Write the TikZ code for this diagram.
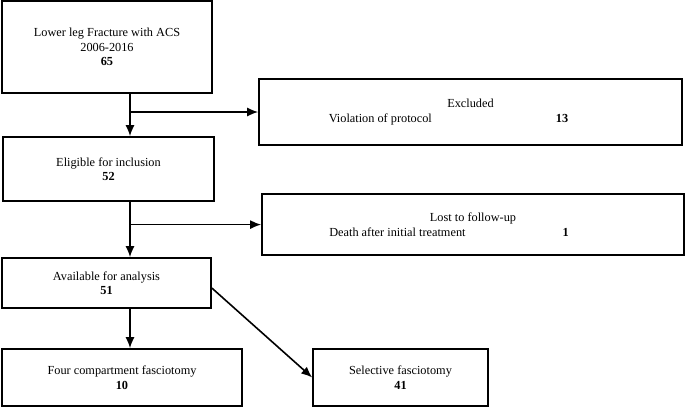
\documentclass[tikz,border=0pt]{standalone}
\usepackage{fontspec}
\setmainfont{Liberation Serif}
\usepackage{tikz}
\usetikzlibrary{arrows.meta}

\begin{document}
\begin{tikzpicture}[
  x=1pt, y=-1pt,
  bnode/.style={draw,rectangle,line width=1.6pt,align=center,inner sep=0pt,
    font=\fontsize{12.3}{14.5}\selectfont},
  arr/.style={line width=1.6pt,-{Latex[length=11pt,width=9pt]}}
]
  \useasboundingbox (0,0) rectangle (685,407);

  % main column
  \node[bnode,minimum width=210pt,minimum height=92pt] (lower) at (107,47)
    {Lower leg Fracture with ACS\\2006-2016\\\textbf{65}};
  \node[bnode,minimum width=211pt,minimum height=64pt] (elig) at (108.5,169)
    {Eligible for inclusion\\\textbf{52}};
  \node[bnode,minimum width=209pt,minimum height=50pt] (avail) at (106.5,283)
    {Available for analysis\\\textbf{51}};

  % side boxes
  \node[bnode,minimum width=423pt,minimum height=66pt] (excl) at (470.5,112)
    {Excluded\\Violation of protocol\hspace{124pt}\textbf{13}\hspace*{44pt}};
  \node[bnode,minimum width=422pt,minimum height=61pt] (lost) at (473,224.6)
    {Lost to follow-up\\Death after initial treatment\hspace{97pt}\textbf{1}\hspace*{48pt}};

  % treatment
  \node[bnode,minimum width=240pt,minimum height=57pt] (four) at (122,377.5)
    {Four compartment fasciotomy\\\textbf{10}};
  \node[bnode,minimum width=175pt,minimum height=57pt] (sel) at (400.5,377.5)
    {Selective fasciotomy\\\textbf{41}};

  % flow edges
  \coordinate (spine) at (130,0);
  \draw[arr] (lower.south -| spine) -- (elig.north -| spine);
  \draw[arr] (spine |- excl.west) -- (excl.west);
  \draw[arr] (elig.south -| spine) -- (avail.north -| spine);
  \draw[arr] (spine |- lost.west) -- (lost.west);
  \draw[arr] (avail.south -| spine) -- (four.north -| spine);
  \draw[arr] ([yshift=-5pt]avail.east) -- (sel.west);

\end{tikzpicture}
\end{document}
